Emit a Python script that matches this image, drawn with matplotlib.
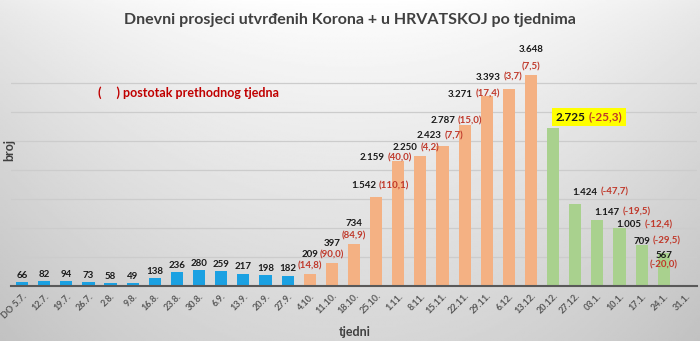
import numpy as np
import matplotlib.pyplot as plt

plt.rcParams['font.family'] = ['Lato', 'DejaVu Sans']

weeks = ['DO 5.7.', '12.7.', '19.7.', '26.7.', '2.8.', '9.8.', '16.8.', '23.8.',
         '30.8.', '6.9.', '13.9.', '20.9.', '27.9.', '4.10.', '11.10.', '18.10.',
         '25.10.', '1.11.', '8.11.', '15.11.', '22.11.', '29.11.', '6.12.', '13.12.',
         '20.12.', '27.12.', '03.1.', '10.1.', '17.1.', '24.1.', '31.1.']
blue_vals = [66, 82, 94, 73, 58, 49, 138, 236, 280, 259, 217, 198, 182]
orange_vals = [209, 397, 734, 1542, 2159, 2250, 2423, 2787, 3271, 3393, 3648]
orange_pct = ['14,8', '90,0', '84,9', '110,1', '40,0', '4,2', '7,7', '15,0', '17,4', '3,7', '7,5']
green_vals = [2725, 1424, 1147, 1005, 709, 567]
green_pct = ['-25,3', '-47,7', '-19,5', '-12,4', '-29,5', '-20,0']

BLUE = '#1ba1e2'
ORANGE = '#f4b183'
GREEN = '#a9d18e'
RED = '#c0392b'
DARK = '#1a1a1a'

# label nudges (points) so the labels sit like in the original slide
orange_nudge = [(0, 0), (0, 0), (0, 0), (3, 4.5), (-9, -1), (-3, 2.5), (-2, 4),
                (-6, -0.5), (-9, -1.5), (-7, 5.5), (0, 0)]
green_nudge = [(1.5, 4), (-2, 5), (-2, 2), (-2, -1), (-6, -0.5), (0, 0)]


def fmt(v):
    return f'{v:,}'.replace(',', '.')


fig = plt.figure(figsize=(7, 3.41), dpi=100)
renderer = fig.canvas.get_renderer()

# background gradient (white at top centre, grey towards the bottom)
bg = fig.add_axes([0, 0, 1, 1], zorder=-1)
yy, xx = np.mgrid[0:1:200j, -1:1:400j]
shade = 1 - 0.16 * yy ** 0.8 - 0.08 * xx ** 2
bg.imshow(shade, cmap='gray', vmin=0, vmax=1, aspect='auto', extent=[0, 1, 0, 1])
bg.axis('off')

ax = fig.add_axes([0.0157, 0.161, 0.98, 0.680])
ax.set_facecolor('none')

x = np.arange(len(weeks))
values = blue_vals + orange_vals + green_vals
colors = [BLUE] * len(blue_vals) + [ORANGE] * len(orange_vals) + [GREEN] * len(green_vals)
ax.bar(x[:len(values)], values, width=0.55, color=colors, zorder=2)
ax.set_xlim(-0.5, len(weeks) - 0.5)
ax.set_ylim(0, 4000)

lab = dict(fontsize=7, fontweight='bold', textcoords='offset points')


def pair_label(i, v, p, dx, dy, align='center', size=7, box=None, gap=2):
    kw = dict(lab, fontsize=size)
    tv = ax.annotate(fmt(v), (i, v), xytext=(dx, dy), ha='left', va='bottom',
                     color=DARK, bbox=box, **kw)
    tp = ax.annotate(f'({p})', xy=(1, 0), xycoords=tv, xytext=(gap, 0), ha='left',
                     va='bottom', color=RED, bbox=box, **kw)
    if align == 'center':
        w = (tv.get_window_extent(renderer).width
             + tp.get_window_extent(renderer).width) * 72 / fig.dpi + gap
        tv.xyann = (dx - w / 2, dy)


# blue weeks: value only
for i, v in enumerate(blue_vals):
    ax.annotate(fmt(v), (i, v), xytext=(0, 1.5), ha='center', va='bottom', color=DARK, **lab)

# orange weeks: value + (percent)
ob = len(blue_vals)
for j, (v, p) in enumerate(zip(orange_vals, orange_pct)):
    i = ob + j
    if v < 1000 or j == len(orange_vals) - 1:
        t = ax.annotate(f'({p})', (i, v), xytext=(0, 2.5), ha='center', va='bottom', color=RED, **lab)
        ax.annotate(fmt(v), xy=(0.5, 1), xycoords=t, xytext=(0, 2 if v < 1000 else 6),
                    ha='center', va='bottom', color=DARK, **lab)
    else:
        pair_label(i, v, p, *orange_nudge[j])

# green weeks
og = ob + len(orange_vals)
for j, (v, p) in enumerate(zip(green_vals, green_pct)):
    i = og + j
    if j == 0:
        box = dict(boxstyle='square,pad=0.3', fc='#ffff00', ec='none')
        pair_label(i, v, p, *green_nudge[j], align='left', size=8.5, box=box, gap=2.5)
    elif j == len(green_vals) - 1:
        t = ax.annotate(f'({p})', (i, v), xytext=(0, -5), ha='center', va='top', color=RED, **lab)
        ax.annotate(fmt(v), xy=(0.5, 1), xycoords=t, xytext=(0, 0), ha='center', va='bottom',
                    color=DARK, **lab)
    else:
        pair_label(i, v, p, *green_nudge[j], align='left')

ax.set_yticks(np.arange(500, 4000, 500))
ax.yaxis.grid(True, color='#cccccc', lw=0.9, zorder=0)
ax.tick_params(axis='y', length=0, labelleft=False)
ax.set_xticks(x)
ax.set_xticklabels(weeks, rotation=45, ha='right', rotation_mode='anchor',
                   fontsize=6.5, fontweight='bold', color='#595959')
ax.tick_params(axis='x', length=0, pad=4)
for s in ['top', 'right', 'left']:
    ax.spines[s].set_visible(False)
ax.spines['bottom'].set_color('#595959')
ax.spines['bottom'].set_linewidth(1.5)

fig.text(0.5, 0.941, 'Dnevni prosjeci utvrđenih Korona + u HRVATSKOJ po tjednima',
         ha='center', va='center', fontsize=11.5, fontweight='bold', color='#404040')
fig.text(0.14, 0.727, '(     ) postotak prethodnog tjedna', ha='left', va='center',
         fontsize=9, fontweight='bold', color='#c00000')
fig.text(0.013, 0.56, 'broj', rotation=90, ha='center', va='center',
         fontsize=9, fontweight='bold', color='#404040')
fig.text(0.507, 0.026, 'tjedni', ha='center', va='center',
         fontsize=9, fontweight='bold', color='#404040')

fig.savefig('out.png', dpi=100)
